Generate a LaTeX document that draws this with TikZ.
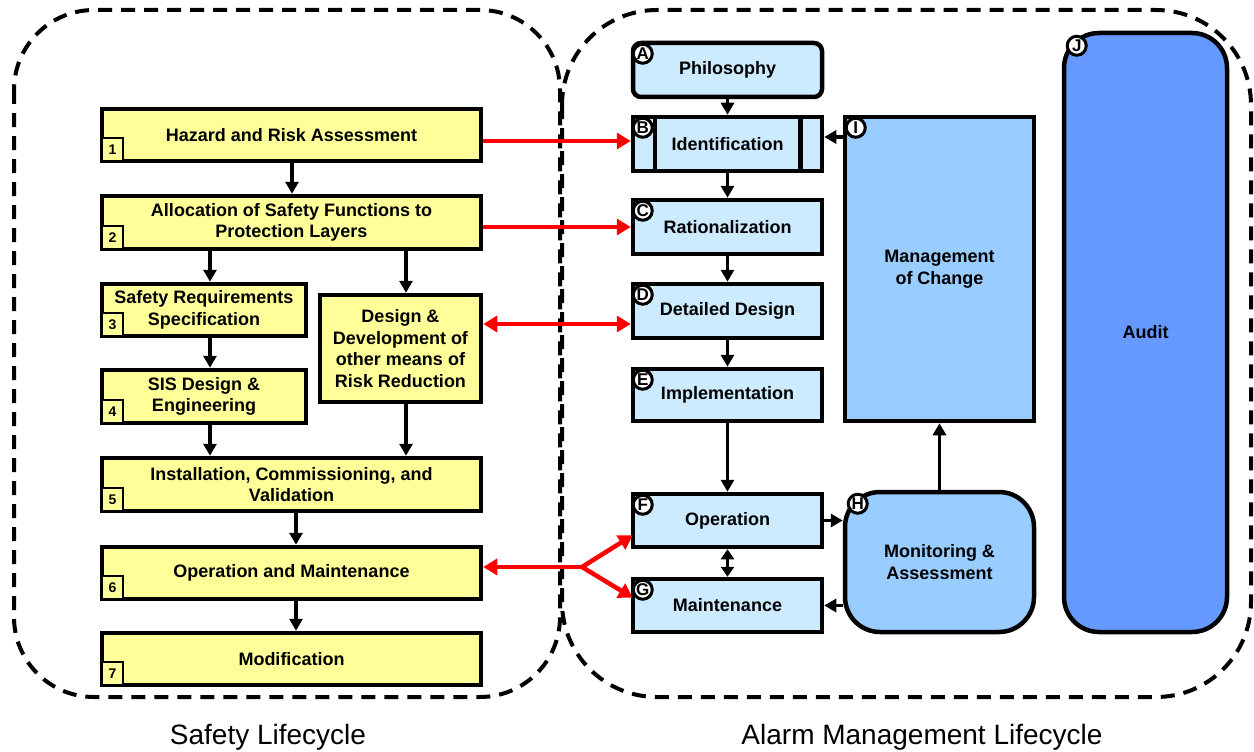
\documentclass[tikz,border=0pt]{standalone}
\usepackage{fontspec}
\setmainfont{Liberation Sans}
\usetikzlibrary{arrows.meta,calc}
\definecolor{yfill}{HTML}{FFFF99}
\definecolor{lblue}{HTML}{CCEBFF}
\definecolor{mblue}{HTML}{99CCFF}
\definecolor{dblue}{HTML}{6699FF}
\begin{document}
\begin{tikzpicture}[x=1pt,y=-1pt,
  boxfont/.style={font=\bfseries\fontsize{18}{21.5}\selectfont},
  ybox/.style={draw, line width=4.5pt, fill=yfill, inner sep=0pt, align=center, boxfont},
  bbox/.style={draw, line width=4.5pt, fill=lblue, inner sep=0pt, align=center, boxfont, minimum width=189pt},
  numbox/.style={draw, line width=2.5pt, fill=yfill, minimum width=21pt, minimum height=23pt, inner sep=0pt, outer sep=0pt, anchor=south west, font=\bfseries\fontsize{14}{14}\selectfont},
  lettercirc/.style={circle, fill=white, draw=black, line width=3pt, text=black, inner sep=0pt, minimum size=19pt, font=\bfseries\fontsize{17}{17}\selectfont},
  arr/.style={line width=3.5pt, -{Triangle[length=12pt,width=13pt]}},
  darr/.style={line width=3.5pt, {Triangle[length=10pt,width=13pt]}-{Triangle[length=10pt,width=13pt]}},
  rarr/.style={draw=red, line width=4.5pt, -{Triangle[length=14pt,width=16pt]}},
  rdarr/.style={draw=red, line width=4.5pt, {Triangle[length=14pt,width=16pt]}-{Triangle[length=14pt,width=16pt]}},
  region/.style={draw, line width=4pt, dash pattern=on 14pt off 9pt},
  caption/.style={font=\fontsize{28}{28}\selectfont, anchor=base}
]
\useasboundingbox (0,0) rectangle (1254,752);

% lifecycle regions
\draw[region, rounded corners=80pt] (14,10) rectangle (560,697);
\draw[region, rounded corners=95pt] (562,10) rectangle (1251,697);

% safety lifecycle boxes
\node[ybox, minimum width=379pt, minimum height=52pt] (b1) at (291.5,135) {Hazard and Risk Assessment};
\node[ybox, minimum width=379pt, minimum height=53pt] (b2) at (291.5,222.5) {Allocation of Safety Functions to\\Protection Layers};
\node[ybox, minimum width=204pt, minimum height=52pt] (b3) at (204,310) {Safety Requirements\\Specification};
\node[ybox, minimum width=204pt, minimum height=53pt] (b4) at (204,396.5) {SIS Design \&\\Engineering};
\node[ybox, minimum width=161pt, minimum height=107pt] (bd) at (400.5,348.5) {Design \&\\Development of\\other means of\\Risk Reduction};
\node[ybox, minimum width=379pt, minimum height=53pt] (b5) at (291.5,484.5) {Installation, Commissioning, and\\Validation};
\node[ybox, minimum width=379pt, minimum height=52pt] (b6) at (291.5,573) {Operation and Maintenance};
\node[ybox, minimum width=379pt, minimum height=52pt] (b7) at (291.5,659) {Modification};

\node[numbox] (n1) at ($(b1.south west)+(2.25,-2.25)$) {1};
\node[numbox] (n2) at ($(b2.south west)+(2.25,-2.25)$) {2};
\node[numbox] (n3) at ($(b3.south west)+(2.25,-2.25)$) {3};
\node[numbox] (n4) at ($(b4.south west)+(2.25,-2.25)$) {4};
\node[numbox] (n5) at ($(b5.south west)+(2.25,-2.25)$) {5};
\node[numbox] (n6) at ($(b6.south west)+(2.25,-2.25)$) {6};
\node[numbox] (n7) at ($(b7.south west)+(2.25,-2.25)$) {7};

% alarm management boxes
\node[bbox, rounded corners=8pt, minimum height=54pt] (A) at (727.5,70) {Philosophy};
\node[bbox, minimum height=54pt] (B) at (727.5,144) {Identification};
\draw[line width=4.5pt] ($(B.north west)+(24,0)$) -- ($(B.south west)+(24,0)$);
\draw[line width=4.5pt] ($(B.north east)+(-24,0)$) -- ($(B.south east)+(-24,0)$);
\node[bbox, minimum height=54pt] (C) at (727.5,227) {Rationalization};
\node[bbox, minimum height=54pt] (D) at (727.5,311) {Detailed Design};
\node[bbox, minimum height=52pt] (E) at (727.5,395) {Implementation};
\node[bbox, minimum height=53pt] (F) at (727.5,520.5) {Operation};
\node[bbox, minimum height=53pt] (G) at (727.5,605.5) {Maintenance};
\node[bbox, fill=mblue, minimum height=304pt] (I) at (939.5,269) {Management\\of Change};
\node[bbox, fill=mblue, rounded corners=35pt, minimum height=140pt] (H) at (939.5,562) {Monitoring \&\\Assessment};
\node[bbox, fill=dblue, rounded corners=35pt, minimum width=163pt, minimum height=599pt] (J) at (1145.5,332.5) {Audit};

\node[lettercirc] (lA) at ($(A.north west)+(12,13)$) {A};
\node[lettercirc] (lB) at ($(B.north west)+(12,13)$) {B};
\node[lettercirc] (lC) at ($(C.north west)+(12,13)$) {C};
\node[lettercirc] (lD) at ($(D.north west)+(12,13)$) {D};
\node[lettercirc] (lE) at ($(E.north west)+(12,13)$) {E};
\node[lettercirc] (lF) at ($(F.north west)+(12,13)$) {F};
\node[lettercirc] (lG) at ($(G.north west)+(12,13)$) {G};
\node[lettercirc] (lH) at ($(H.north west)+(15,14)$) {H};
\node[lettercirc] (lI) at ($(I.north west)+(13,13)$) {I};
\node[lettercirc] (lJ) at ($(J.north west)+(15,15)$) {J};

% black connectors, safety lifecycle
\draw[arr] (b1.south -| 292,0) -- (b2.north -| 292,0);
\draw[arr] (b2.south -| 210,0) -- (b3.north -| 210,0);
\draw[arr] (b2.south -| 406,0) -- (bd.north -| 406,0);
\draw[arr] (b3.south -| 210,0) -- (b4.north -| 210,0);
\draw[arr] (b4.south -| 210,0) -- (b5.north -| 210,0);
\draw[arr] (bd.south -| 406,0) -- (b5.north -| 406,0);
\draw[arr] (b5.south -| 296,0) -- (b6.north -| 296,0);
\draw[arr] (b6.south -| 296,0) -- (b7.north -| 296,0);

% black connectors, alarm management
\draw[arr] (A.south) -- (B.north);
\draw[arr] (B.south) -- (C.north);
\draw[arr] (C.south) -- (D.north);
\draw[arr] (D.south) -- (E.north);
\draw[arr] (E.south) -- (F.north);
\draw[darr] (F.south) -- (G.north);
\draw[arr] (F.east) -- (H.west |- F.east);
\draw[arr] (H.west |- G.east) -- (G.east);
\draw[arr] (H.north) -- (I.south);
\draw[arr] (I.west |- 0,137) -- (B.east |- 0,137);

% red connectors
\draw[rarr] (b1.east |- 0,141) -- (B.west |- 0,141);
\draw[rarr] (b2.east |- C.west) -- (C.west);
\draw[rdarr] (bd.east |- 0,324) -- (D.west |- 0,324);
\coordinate (br) at (582,567);
\draw[rarr] (br) -- (b6.east |- br);
\draw[rarr] (br) -- ($(F.south west)+(2,-14)$);
\draw[rarr] (br) -- ($(G.north west)+(2,21)$);

% captions
\node[caption] (capS) at (268,744) {Safety Lifecycle};
\node[caption] (capA) at (922,744) {Alarm Management Lifecycle};
\end{tikzpicture}
\end{document}
